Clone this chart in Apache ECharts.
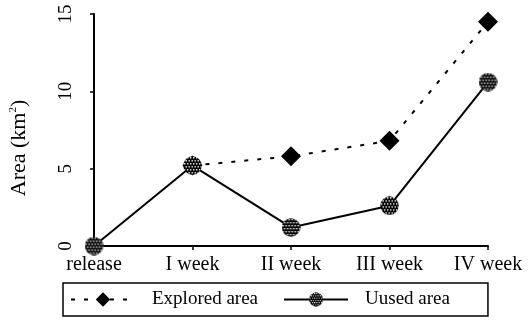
<!DOCTYPE html>
<html>
<head>
<meta charset="utf-8">
<script src="https://cdn.jsdelivr.net/npm/echarts@6/dist/echarts.min.js"></script>
<style>
html, body { margin: 0; padding: 0; background: #fff; }
#chart { width: 532px; height: 326px; }
</style>
</head>
<body>
<div id="chart"></div>
<script>
// weeks after release
var weeks = ['release', 'I week', 'II week', 'III week', 'IV week'];
var exploredArea = [null, 5.2, 5.8, 6.8, 14.5];
var usedArea = [0, 5.2, 1.2, 2.6, 10.6];
var yTicks = [0, 5, 10, 15];

var FONT = '"Liberation Serif", "DejaVu Serif", serif';

// round marker with the dotted (checkered) fill of the original
function dottedCircle(size) {
	var c = document.createElement('canvas');
	c.width = size; c.height = size;
	var ctx = c.getContext('2d');
	ctx.beginPath();
	ctx.arc(size / 2, size / 2, size / 2 - 0.3, 0, Math.PI * 2);
	ctx.fillStyle = '#000';
	ctx.fill();
	ctx.save();
	ctx.clip();
	ctx.fillStyle = '#fff';
	for (var y = 1; y < size; y += 3) {
		for (var x = ((y - 1) / 3) % 2 ? 2.5 : 1; x < size; x += 3) {
			ctx.fillRect(x, y, 1.4, 1.4);
		}
	}
	ctx.restore();
	return 'image://' + c.toDataURL();
}
var circleSym = dottedCircle(19);

var chart = echarts.init(document.getElementById('chart'));
var option = {
	animation: false,
	textStyle: { fontFamily: FONT, color: '#000' },
	grid: { left: 93, right: 44, top: 14, bottom: 80 },
	legend: {
		left: 63,
		top: 283,
		padding: [7, 38, 7, 7],
		borderColor: '#000',
		borderWidth: 1.5,
		borderRadius: 0,
		itemWidth: 64,
		itemHeight: 18,
		itemGap: 25,
		textStyle: { fontFamily: FONT, fontSize: 19, color: '#000', padding: [0, 0, 0, 12] },
		data: ['Explored area', 'Uused area']
	},
	xAxis: {
		type: 'category',
		data: weeks,
		boundaryGap: false,
		axisLine: { lineStyle: { color: '#000', width: 2 } },
		axisTick: { length: 4, lineStyle: { color: '#000', width: 1.5 } },
		axisLabel: { fontFamily: FONT, fontSize: 20, color: '#000', margin: 9 }
	},
	yAxis: {
		type: 'value',
		min: yTicks[0],
		max: yTicks[yTicks.length - 1],
		interval: 5,
		splitLine: { show: false },
		axisLine: { show: true, lineStyle: { color: '#000', width: 2 } },
		axisTick: { show: true, length: 4, lineStyle: { color: '#000', width: 1.5 } },
		axisLabel: { fontFamily: FONT, fontSize: 19, color: '#000', rotate: 90, margin: 18 },
		name: '{n|Area (km}{s|2}{n|)}',
		nameLocation: 'middle',
		nameGap: 64,
		nameTextStyle: {
			padding: [0, 36, 0, 0],
			rich: {
				n: { fontFamily: FONT, fontSize: 22, color: '#000' },
				s: { fontFamily: FONT, fontSize: 11, color: '#000', verticalAlign: 'top', padding: [0, 0, 9, 0] }
			}
		}
	},
	series: [
		{
			name: 'Explored area',
			type: 'line',
			data: exploredArea,
			symbol: 'diamond',
			symbolSize: 20,
			z: 2,
			itemStyle: { color: '#000' },
			lineStyle: { color: '#000', width: 2, type: [4, 9] }
		},
		{
			name: 'Uused area',
			type: 'line',
			data: usedArea,
			symbol: circleSym,
			symbolSize: 19,
			z: 3,
			itemStyle: { color: '#000' },
			lineStyle: { color: '#000', width: 2 }
		}
	]
};
chart.setOption(option);
</script>
</body>
</html>
